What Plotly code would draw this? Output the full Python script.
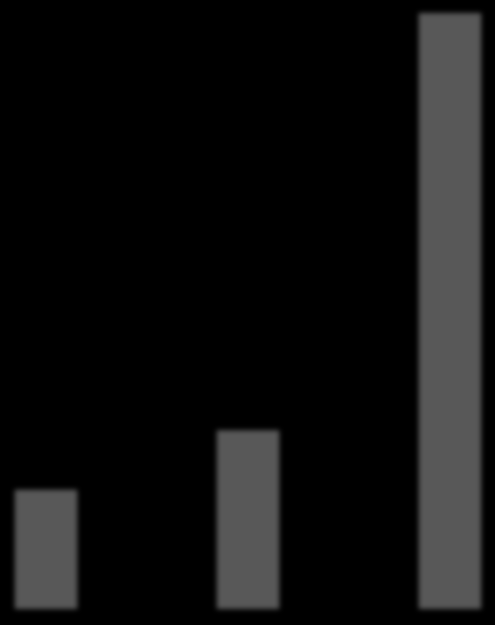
import plotly.graph_objects as go

categories = ["A", "B", "C"]
values = [2, 3, 10]

BAR = "#585858"

fig = go.Figure(go.Bar(x=categories, y=values, marker_color=BAR, width=0.31,
                       marker_line_width=0))
fig.update_layout(
    width=495,
    height=625,
    paper_bgcolor="black",
    plot_bgcolor="black",
    margin=dict(l=0, r=0, t=0, b=0),
    showlegend=False,
    xaxis=dict(visible=False, range=[-0.228, 2.223]),
    yaxis=dict(visible=False, range=[-0.27, 10.22]),
)

# no page margin, soft edges like the reference
post = (
    "document.body.style.margin='0';"
    "document.body.style.background='black';"
    "document.querySelectorAll('.barlayer').forEach(function(g){g.style.filter='blur(2.5px)';});"
)
fig.write_html("out.html", config={"displayModeBar": False}, post_script=post)
